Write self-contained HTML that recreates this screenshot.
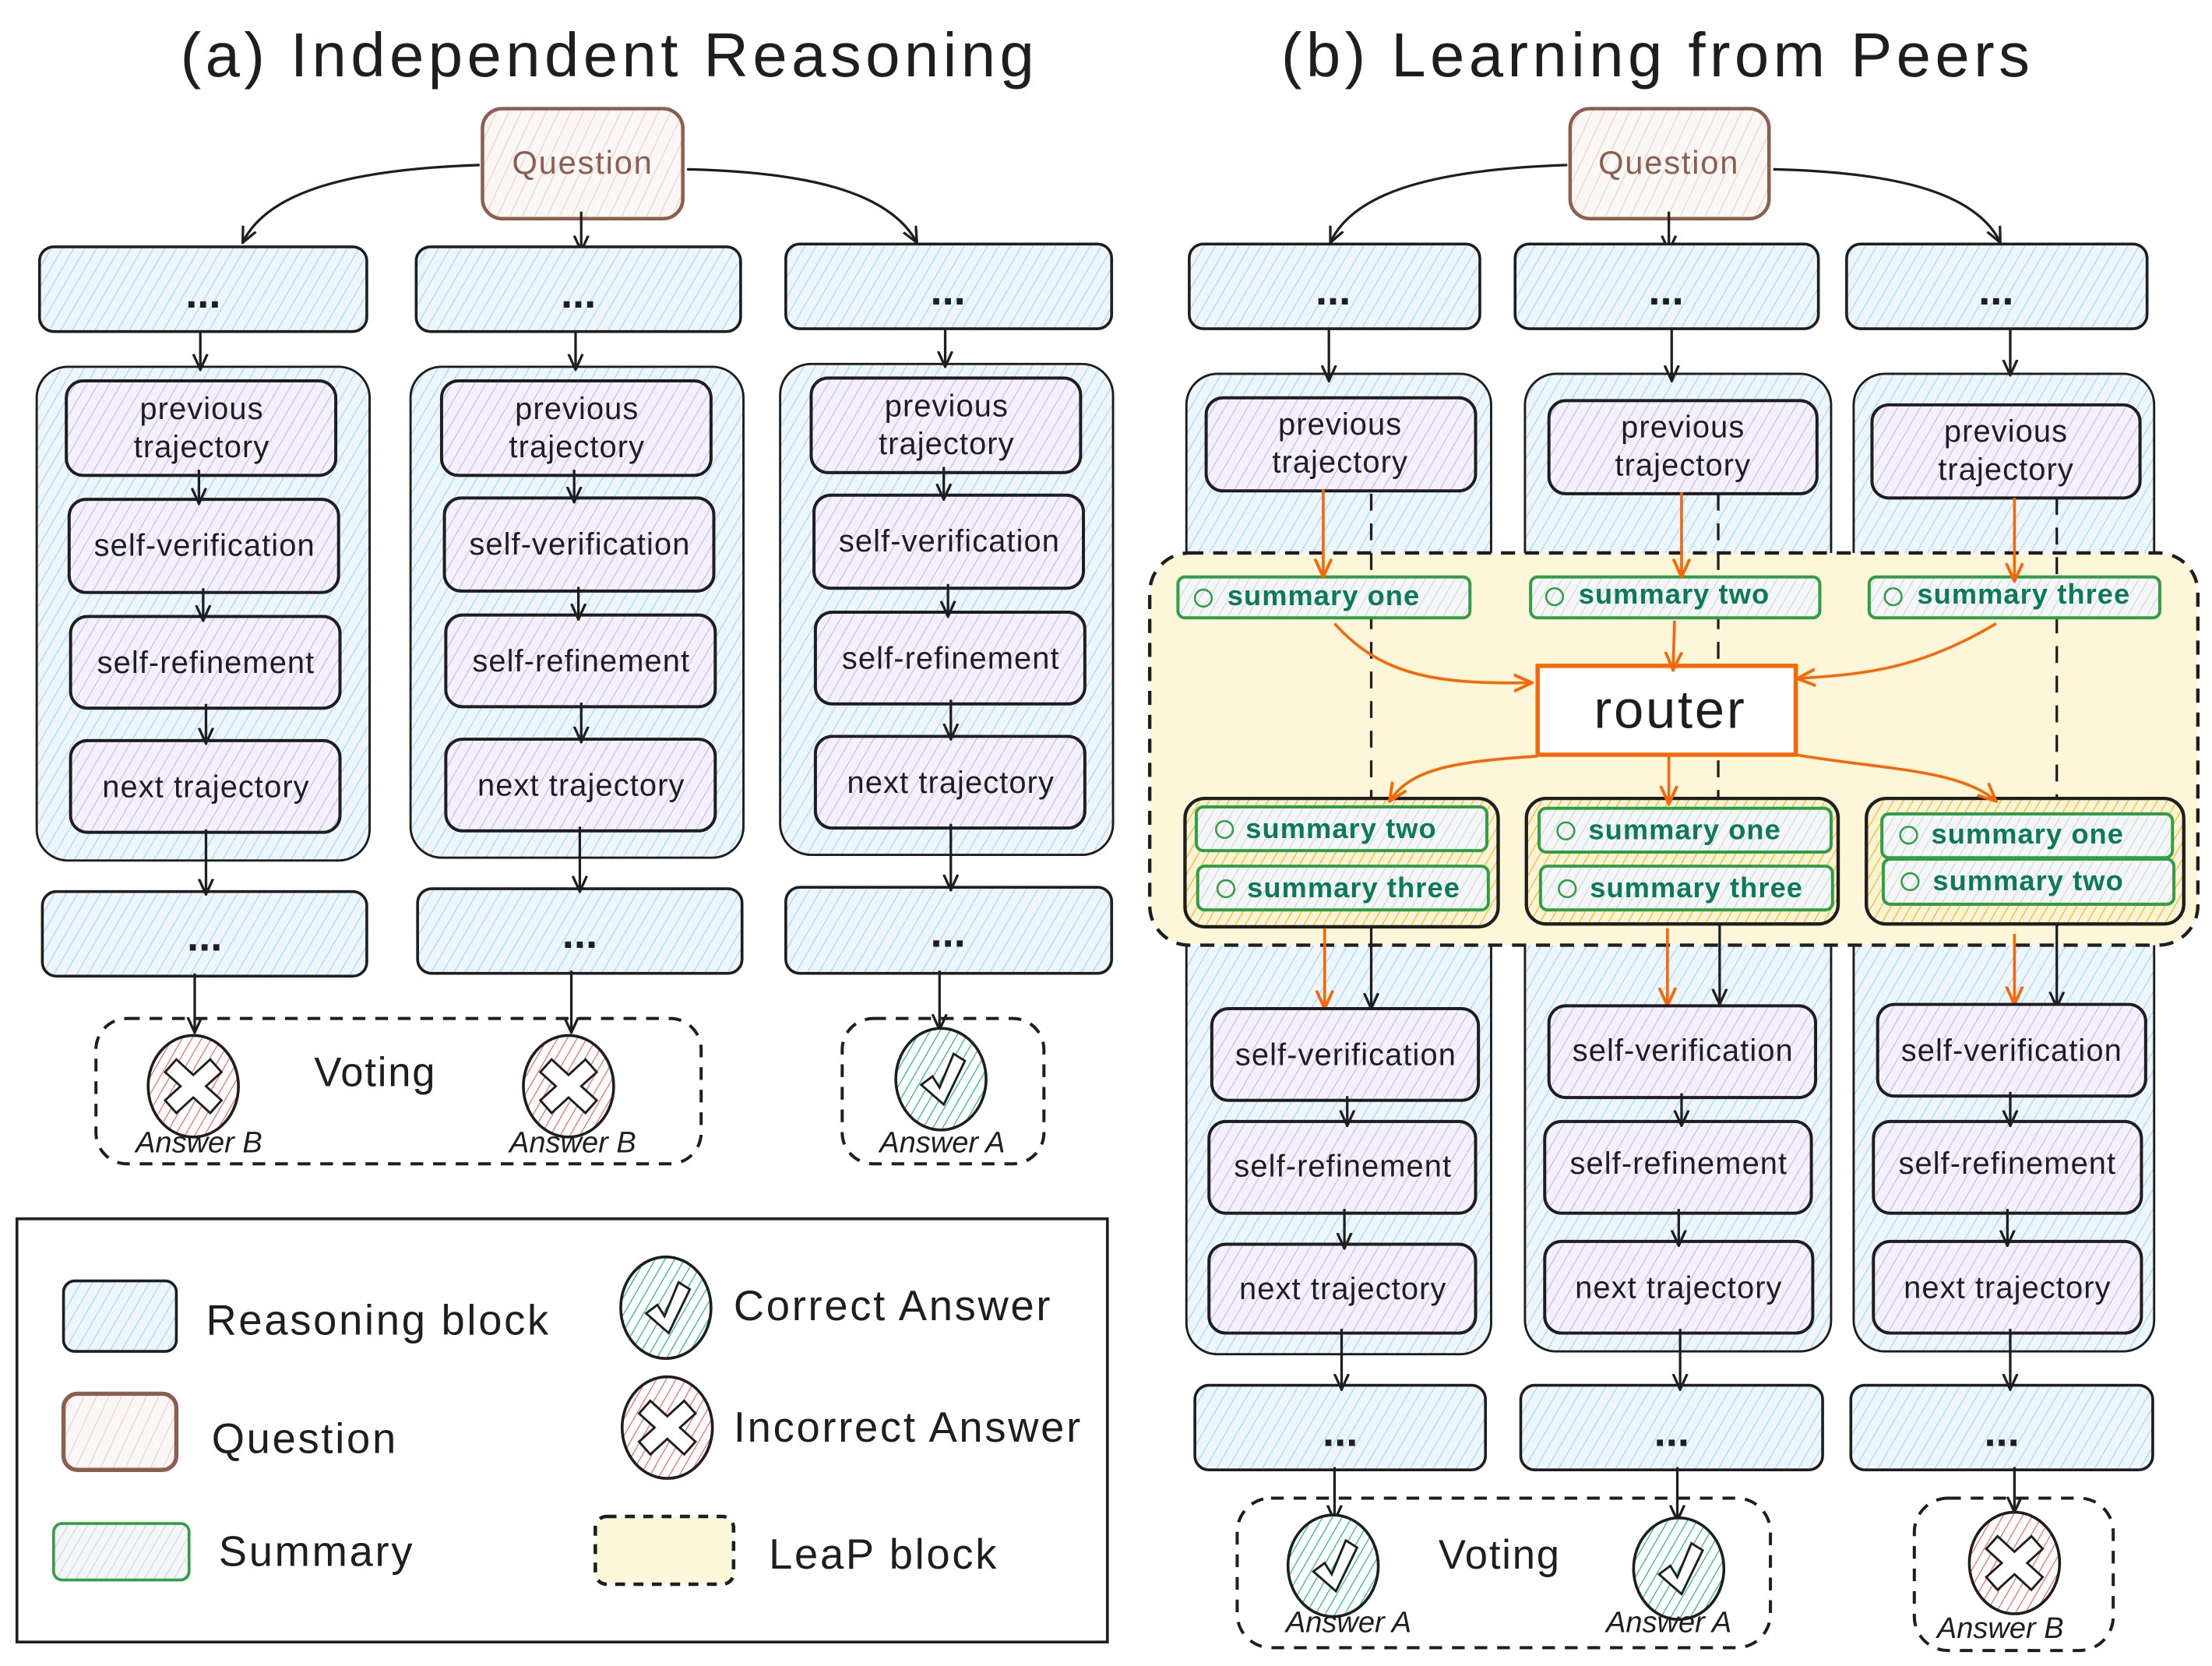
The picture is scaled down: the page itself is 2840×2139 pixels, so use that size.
<!DOCTYPE html>
<html><head><meta charset="utf-8">
<style>
html,body{margin:0;padding:0;background:#fff;}
svg{display:block;}
text{font-family:"Liberation Sans",sans-serif;fill:#1e1e1e;}
.bx{font-size:22px;letter-spacing:0.6px;}
.sm{font-size:20px;letter-spacing:0.6px;}
</style></head>
<body>
<svg width="2840" height="2139" viewBox="0 0 1568 1181" xmlns="http://www.w3.org/2000/svg">
<defs>
<pattern id="pb" width="7" height="7" patternUnits="userSpaceOnUse" patternTransform="rotate(30)"><rect width="7" height="7" fill="#eef6fd"/><line x1="0" y1="0" x2="0" y2="7" stroke="#a5d8ff" stroke-width="1.4"/></pattern>
<pattern id="pp" width="7" height="7" patternUnits="userSpaceOnUse" patternTransform="rotate(30)"><rect width="7" height="7" fill="#f4f0fd"/><line x1="0" y1="0" x2="0" y2="7" stroke="#c9b8f5" stroke-width="1.3"/></pattern>
<pattern id="pq" width="8" height="8" patternUnits="userSpaceOnUse" patternTransform="rotate(25)"><rect width="8" height="8" fill="#fbf7f5"/><line x1="0" y1="0" x2="0" y2="8" stroke="#e6d6d0" stroke-width="1.4"/></pattern>
<pattern id="pg" width="6" height="6" patternUnits="userSpaceOnUse" patternTransform="rotate(30)"><rect width="6" height="6" fill="#f5f6f7"/><line x1="0" y1="0" x2="0" y2="6" stroke="#ced4da" stroke-width="1.2"/></pattern>
<pattern id="po" width="6" height="6" patternUnits="userSpaceOnUse" patternTransform="rotate(30)"><rect width="6" height="6" fill="#fdf3d6"/><line x1="0" y1="0" x2="0" y2="6" stroke="#f5b400" stroke-width="1.2"/></pattern>
<pattern id="pr" width="6" height="6" patternUnits="userSpaceOnUse" patternTransform="rotate(30)"><rect width="6" height="6" fill="#fff"/><line x1="0" y1="0" x2="0" y2="6" stroke="#fa5252" stroke-width="1.2"/></pattern>
<pattern id="pgr" width="6" height="6" patternUnits="userSpaceOnUse" patternTransform="rotate(30)"><rect width="6" height="6" fill="#fff"/><line x1="0" y1="0" x2="0" y2="6" stroke="#12b886" stroke-width="1.3"/></pattern>
<marker id="ah" viewBox="0 0 12 12" refX="11" refY="6" markerWidth="12" markerHeight="12" markerUnits="userSpaceOnUse" orient="auto"><path d="M0,1 L11,6 L0,11" fill="none" stroke="#1e1e1e" stroke-width="1.8"/></marker>
<marker id="ao" viewBox="0 0 12 12" refX="11" refY="6" markerWidth="14" markerHeight="14" markerUnits="userSpaceOnUse" orient="auto"><path d="M0,1 L11,6 L0,11" fill="none" stroke="#f76707" stroke-width="1.8"/></marker>
<symbol id="bad" viewBox="-36 -40 72 80" overflow="visible"><ellipse cx="0" cy="0" rx="32" ry="36" fill="url(#pr)" stroke="#1e1e1e" stroke-width="2"/><path d="M-12,-19 L0,-8 L12,-19 L20,-10 L9,0 L20,10 L12,19 L0,8 L-12,19 L-20,10 L-9,0 L-20,-10 Z" fill="#fff" stroke="#1e1e1e" stroke-width="1.6"/></symbol>
<symbol id="good" viewBox="-36 -40 72 80" overflow="visible"><ellipse cx="0" cy="0" rx="32" ry="36" fill="url(#pgr)" stroke="#1e1e1e" stroke-width="2"/><path d="M-14,4 L-6,-2 L-1,6 L9,-18 L17,-13 L2,18 Z" fill="#fff" stroke="#1e1e1e" stroke-width="1.6"/></symbol>
</defs>

<!-- Titles -->
<text x="432" y="54" font-size="44" letter-spacing="3" text-anchor="middle">(a) Independent Reasoning</text>
<text x="1175" y="54" font-size="44" letter-spacing="3" text-anchor="middle">(b) Learning from Peers</text>

<!-- ============ (a) ============ -->
<rect x="342" y="77" width="142" height="78" rx="14" fill="url(#pq)" stroke="#8b5e4f" stroke-width="2.5"/>
<text x="413" y="123" font-size="23" letter-spacing="1" text-anchor="middle" style="fill:#8b5e4f">Question</text>
<path d="M340,117 C250,120 190,135 172,172" fill="none" stroke="#1e1e1e" stroke-width="1.8" marker-end="url(#ah)"/>
<path d="M412,150 L412,178" fill="none" stroke="#1e1e1e" stroke-width="1.8" marker-end="url(#ah)"/>
<path d="M487,120 C570,122 630,135 650,172" fill="none" stroke="#1e1e1e" stroke-width="1.8" marker-end="url(#ah)"/>

<g stroke="#1e1e1e" stroke-width="2">
<rect x="28" y="175" width="232" height="60" rx="10" fill="url(#pb)"/>
<rect x="295" y="175" width="230" height="60" rx="10" fill="url(#pb)"/>
<rect x="557" y="173" width="231" height="60" rx="10" fill="url(#pb)"/>
<rect x="26" y="260" width="236" height="350" rx="22" fill="url(#pb)" stroke-width="1.6"/>
<rect x="291" y="260" width="236" height="348" rx="22" fill="url(#pb)" stroke-width="1.6"/>
<rect x="553" y="258" width="236" height="348" rx="22" fill="url(#pb)" stroke-width="1.6"/>
<rect x="30" y="632" width="230" height="60" rx="10" fill="url(#pb)"/>
<rect x="296" y="630" width="230" height="60" rx="10" fill="url(#pb)"/>
<rect x="557" y="629" width="231" height="61" rx="10" fill="url(#pb)"/>
</g>
<g font-size="30" font-weight="bold" text-anchor="middle">
<text x="144" y="218">...</text><text x="410" y="218">...</text><text x="672" y="216">...</text>
<text x="145" y="674">...</text><text x="411" y="672">...</text><text x="672" y="671">...</text>
</g>

<g stroke="#1e1e1e" stroke-width="2.2" fill="url(#pp)">
<rect x="47" y="270" width="191" height="67" rx="12"/><rect x="49" y="354" width="191" height="66" rx="12"/><rect x="50" y="437" width="191" height="65" rx="12"/><rect x="50" y="525" width="191" height="65" rx="12"/>
<rect x="313" y="270" width="191" height="67" rx="12"/><rect x="315" y="353" width="191" height="66" rx="12"/><rect x="316" y="436" width="191" height="65" rx="12"/><rect x="316" y="524" width="191" height="65" rx="12"/>
<rect x="575" y="268" width="191" height="67" rx="12"/><rect x="577" y="351" width="191" height="66" rx="12"/><rect x="578" y="434" width="191" height="65" rx="12"/><rect x="578" y="522" width="191" height="65" rx="12"/>
</g>
<g class="bx" text-anchor="middle">
<text x="143" y="297">previous</text><text x="143" y="324">trajectory</text><text x="145" y="394">self-verification</text><text x="146" y="477">self-refinement</text><text x="146" y="565">next trajectory</text>
<text x="409" y="297">previous</text><text x="409" y="324">trajectory</text><text x="411" y="393">self-verification</text><text x="412" y="476">self-refinement</text><text x="412" y="564">next trajectory</text>
<text x="671" y="295">previous</text><text x="671" y="322">trajectory</text><text x="673" y="391">self-verification</text><text x="674" y="474">self-refinement</text><text x="674" y="562">next trajectory</text>
</g>
<g stroke="#1e1e1e" stroke-width="1.8" fill="none" marker-end="url(#ah)">
<path d="M142,235 L142,262"/><path d="M408,235 L408,262"/><path d="M670,233 L670,260"/>
<path d="M141,333 L141,357"/><path d="M407,333 L407,356"/><path d="M669,331 L669,354"/>
<path d="M144,417 L144,440"/><path d="M410,416 L410,439"/><path d="M672,414 L672,437"/>
<path d="M146,499 L146,527"/><path d="M412,498 L412,526"/><path d="M674,496 L674,524"/>
<path d="M146,588 L146,634"/><path d="M411,586 L411,632"/><path d="M674,584 L674,631"/>
<path d="M138,690 L138,732"/><path d="M405,688 L405,732"/><path d="M666,688 L666,730"/>
</g>
<rect x="68" y="722" width="429" height="103" rx="22" fill="none" stroke="#1e1e1e" stroke-width="2.2" stroke-dasharray="9,7"/>
<rect x="597" y="722" width="143" height="103" rx="22" fill="none" stroke="#1e1e1e" stroke-width="2.2" stroke-dasharray="9,7"/>
<use href="#bad" x="101" y="730" width="72" height="80"/>
<use href="#bad" x="367" y="730" width="72" height="80"/>
<use href="#good" x="631" y="725" width="72" height="80"/>
<g font-size="21" font-style="italic" text-anchor="middle">
<text x="141" y="817">Answer B</text><text x="406" y="817">Answer B</text><text x="668" y="817">Answer A</text>
</g>
<text x="266" y="770" font-size="29" letter-spacing="1" text-anchor="middle">Voting</text>

<!-- Legend -->
<rect x="12" y="864" width="773" height="300" fill="#fff" stroke="#1e1e1e" stroke-width="2"/>
<rect x="45" y="908" width="80" height="50" rx="8" fill="url(#pb)" stroke="#1e1e1e" stroke-width="2"/>
<rect x="45" y="988" width="80" height="54" rx="10" fill="url(#pq)" stroke="#8b5e4f" stroke-width="3"/>
<rect x="38" y="1080" width="96" height="40" rx="6" fill="url(#pg)" stroke="#2f9e44" stroke-width="2"/>
<use href="#good" x="436" y="887" width="72" height="80"/>
<use href="#bad" x="437" y="972" width="72" height="80"/>
<rect x="422" y="1075" width="98" height="48" rx="8" fill="#fdf7da" stroke="#1e1e1e" stroke-width="2.5" stroke-dasharray="7,6"/>
<g font-size="30" letter-spacing="1.5">
<text x="146" y="946">Reasoning block</text>
<text x="150" y="1030">Question</text>
<text x="155" y="1110">Summary</text>
<text x="520" y="936">Correct Answer</text>
<text x="520" y="1022">Incorrect Answer</text>
<text x="545" y="1112">LeaP block</text>
</g>

<!-- ============ (b) ============ -->
<rect x="1113" y="77" width="141" height="78" rx="14" fill="url(#pq)" stroke="#8b5e4f" stroke-width="2.5"/>
<text x="1183" y="123" font-size="23" letter-spacing="1" text-anchor="middle" style="fill:#8b5e4f">Question</text>
<path d="M1111,117 C1020,120 960,135 943,172" fill="none" stroke="#1e1e1e" stroke-width="1.8" marker-end="url(#ah)"/>
<path d="M1183,150 L1183,178" fill="none" stroke="#1e1e1e" stroke-width="1.8" marker-end="url(#ah)"/>
<path d="M1257,120 C1340,122 1400,135 1418,172" fill="none" stroke="#1e1e1e" stroke-width="1.8" marker-end="url(#ah)"/>

<g stroke="#1e1e1e" stroke-width="2">
<rect x="843" y="173" width="206" height="60" rx="10" fill="url(#pb)"/>
<rect x="1074" y="173" width="215" height="60" rx="10" fill="url(#pb)"/>
<rect x="1309" y="173" width="213" height="60" rx="10" fill="url(#pb)"/>
<rect x="841" y="265" width="216" height="695" rx="22" fill="url(#pb)" stroke-width="1.6"/>
<rect x="1081" y="265" width="217" height="693" rx="22" fill="url(#pb)" stroke-width="1.6"/>
<rect x="1314" y="265" width="213" height="693" rx="22" fill="url(#pb)" stroke-width="1.6"/>
<rect x="847" y="982" width="206" height="60" rx="10" fill="url(#pb)"/>
<rect x="1078" y="982" width="214" height="60" rx="10" fill="url(#pb)"/>
<rect x="1312" y="982" width="214" height="60" rx="10" fill="url(#pb)"/>
</g>
<g font-size="30" font-weight="bold" text-anchor="middle">
<text x="945" y="216">...</text><text x="1181" y="216">...</text><text x="1415" y="216">...</text>
<text x="950" y="1025">...</text><text x="1185" y="1025">...</text><text x="1419" y="1025">...</text>
</g>
<g stroke="#1e1e1e" stroke-width="1.8" fill="none" marker-end="url(#ah)">
<path d="M942,233 L942,270"/><path d="M1185,233 L1185,270"/><path d="M1425,233 L1425,266"/>
</g>
<g stroke="#1e1e1e" stroke-width="2.2" fill="url(#pp)">
<rect x="855" y="282" width="191" height="66" rx="12"/>
<rect x="1098" y="284" width="190" height="66" rx="12"/>
<rect x="1327" y="287" width="190" height="66" rx="12"/>
</g>
<g class="bx" text-anchor="middle">
<text x="950" y="308">previous</text><text x="950" y="335">trajectory</text>
<text x="1193" y="310">previous</text><text x="1193" y="337">trajectory</text>
<text x="1422" y="313">previous</text><text x="1422" y="340">trajectory</text>
</g>

<!-- LeaP block -->
<rect x="815" y="392" width="743" height="278" rx="28" fill="#fdf6d9" stroke="#1e1e1e" stroke-width="2.4" stroke-dasharray="10,7"/>
<g stroke="#1e1e1e" stroke-width="1.8" stroke-dasharray="12,9">
<path d="M972,350 L972,570"/><path d="M1218,350 L1218,570"/><path d="M1458,353 L1458,570"/>
</g>
<g stroke="#2f9e44" stroke-width="2.2" fill="url(#pg)">
<rect x="835" y="409" width="207" height="29" rx="5"/>
<rect x="1085" y="409" width="205" height="29" rx="5"/>
<rect x="1325" y="409" width="206" height="29" rx="5"/>
</g>
<rect x="1090" y="472" width="183" height="63" fill="#fff" stroke="#f76707" stroke-width="3"/>
<text x="1184" y="516" font-size="38" letter-spacing="1.5" text-anchor="middle">router</text>
<g stroke="#1e1e1e" stroke-width="2.4" fill="url(#po)">
<rect x="840" y="566" width="222" height="91" rx="14"/>
<rect x="1082" y="566" width="221" height="89" rx="14"/>
<rect x="1323" y="566" width="225" height="89" rx="14"/>
</g>
<g stroke="#2f9e44" stroke-width="2.2" fill="url(#pg)">
<rect x="848" y="572" width="206" height="31" rx="5"/><rect x="849" y="614" width="206" height="31" rx="5"/>
<rect x="1091" y="573" width="207" height="31" rx="5"/><rect x="1092" y="614" width="207" height="31" rx="5"/>
<rect x="1334" y="577" width="206" height="31" rx="5"/><rect x="1335" y="609" width="206" height="32" rx="5"/>
</g>
<g stroke="#2f9e44" stroke-width="1.4" fill="none">
<circle cx="853" cy="424" r="6"/><circle cx="1102" cy="423" r="6"/><circle cx="1342" cy="423" r="6"/>
<circle cx="868" cy="588" r="6"/><circle cx="869" cy="630" r="6"/>
<circle cx="1110" cy="589" r="6"/><circle cx="1111" cy="630" r="6"/>
<circle cx="1353" cy="592" r="6"/><circle cx="1354" cy="625" r="6"/>
</g>
<g class="sm" font-weight="bold">
<text x="870" y="429" style="fill:#0b7a55">summary one</text>
<text x="1119" y="428" style="fill:#0b7a55">summary two</text>
<text x="1359" y="428" style="fill:#0b7a55">summary three</text>
<text x="883" y="594" style="fill:#0b7a55">summary two</text>
<text x="884" y="636" style="fill:#0b7a55">summary three</text>
<text x="1126" y="595" style="fill:#0b7a55">summary one</text>
<text x="1127" y="636" style="fill:#0b7a55">summary three</text>
<text x="1369" y="598" style="fill:#0b7a55">summary one</text>
<text x="1370" y="631" style="fill:#0b7a55">summary two</text>
</g>
<g stroke="#f76707" stroke-width="2" fill="none" marker-end="url(#ao)">
<path d="M938,347 L938,409"/><path d="M1192,349 L1192,409"/><path d="M1428,353 L1428,412"/>
<path d="M946,442 C980,480 1020,485 1086,484"/>
<path d="M1187,440 L1186,475"/>
<path d="M1415,442 C1360,475 1320,478 1274,481"/>
<path d="M1090,536 C1030,540 1000,545 985,568"/>
<path d="M1183,535 L1183,570"/>
<path d="M1273,535 C1330,545 1390,545 1415,568"/>
<path d="M939,658 L939,715"/><path d="M1182,658 L1182,713"/><path d="M1428,662 L1428,712"/>
</g>
<g stroke="#1e1e1e" stroke-width="1.8" fill="none" marker-end="url(#ah)">
<path d="M972,657 L972,715"/><path d="M1219,655 L1219,712"/><path d="M1458,655 L1458,714"/>
</g>

<g stroke="#1e1e1e" stroke-width="2.2" fill="url(#pp)">
<rect x="859" y="715" width="189" height="65" rx="12"/><rect x="857" y="795" width="189" height="65" rx="12"/><rect x="857" y="882" width="189" height="63" rx="12"/>
<rect x="1098" y="713" width="189" height="65" rx="12"/><rect x="1095" y="795" width="189" height="65" rx="12"/><rect x="1095" y="880" width="190" height="65" rx="12"/>
<rect x="1331" y="712" width="190" height="65" rx="12"/><rect x="1328" y="795" width="190" height="65" rx="12"/><rect x="1328" y="880" width="190" height="65" rx="12"/>
</g>
<g class="bx" text-anchor="middle">
<text x="954" y="755">self-verification</text><text x="952" y="834">self-refinement</text><text x="952" y="921">next trajectory</text>
<text x="1193" y="752">self-verification</text><text x="1190" y="832">self-refinement</text><text x="1190" y="920">next trajectory</text>
<text x="1426" y="752">self-verification</text><text x="1423" y="832">self-refinement</text><text x="1423" y="920">next trajectory</text>
</g>
<g stroke="#1e1e1e" stroke-width="1.8" fill="none" marker-end="url(#ah)">
<path d="M955,777 L955,798"/><path d="M953,857 L953,885"/><path d="M951,942 L951,985"/>
<path d="M1192,775 L1192,798"/><path d="M1190,857 L1190,883"/><path d="M1191,942 L1191,985"/>
<path d="M1425,774 L1425,798"/><path d="M1423,857 L1423,883"/><path d="M1425,942 L1425,985"/>
<path d="M946,1040 L946,1078"/><path d="M1189,1040 L1189,1078"/><path d="M1428,1040 L1428,1072"/>
</g>
<rect x="877" y="1062" width="378" height="106" rx="24" fill="none" stroke="#1e1e1e" stroke-width="2.2" stroke-dasharray="9,7"/>
<rect x="1357" y="1062" width="141" height="108" rx="24" fill="none" stroke="#1e1e1e" stroke-width="2.2" stroke-dasharray="9,7"/>
<use href="#good" x="909" y="1070" width="72" height="80"/>
<use href="#good" x="1154" y="1072" width="72" height="80"/>
<use href="#bad" x="1392" y="1068" width="72" height="80"/>
<g font-size="21" font-style="italic" text-anchor="middle">
<text x="956" y="1157">Answer A</text><text x="1183" y="1157">Answer A</text><text x="1418" y="1161">Answer B</text>
</g>
<text x="1063" y="1112" font-size="29" letter-spacing="1" text-anchor="middle">Voting</text>
</svg>
</body></html>
